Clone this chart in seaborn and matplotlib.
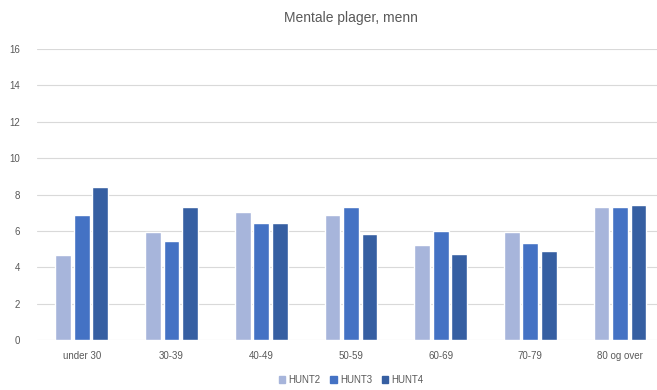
import numpy as np
import pandas as pd
import matplotlib
matplotlib.use("Agg")
import matplotlib.pyplot as plt
import seaborn as sns

# age groups and survey values (percent)
categories = ["under 30", "30-39", "40-49", "50-59", "60-69", "70-79", "80 og over"]
hunt2 = [4.7, 5.95, 7.05, 6.85, 5.25, 5.95, 7.3]
hunt3 = [6.85, 5.45, 6.45, 7.3, 6.0, 5.35, 7.3]
hunt4 = [8.4, 7.3, 6.45, 5.85, 4.75, 4.9, 7.45]
series = ["HUNT2", "HUNT3", "HUNT4"]
colors = ["#A7B5DB", "#4472C4", "#365FA2"]

df = pd.DataFrame({
    "Alder": categories * 3,
    "Serie": np.repeat(series, len(categories)),
    "Verdi": hunt2 + hunt3 + hunt4,
})

sns.set_style("white")
plt.rcParams["font.family"] = ["Liberation Sans", "DejaVu Sans"]

fig = plt.figure(figsize=(6.57, 3.9), dpi=100)
ax = fig.add_axes([0.0563, 0.1282, 0.9557, 0.746])

sns.barplot(data=df, x="Alder", y="Verdi", hue="Serie", palette=colors,
            saturation=1, width=0.62, gap=0.15, ax=ax, legend=False, zorder=3)

ax.set_ylim(0, 16)
ax.set_yticks(range(0, 17, 2))
ax.set_xlim(-0.5, len(categories) - 0.5)
ax.grid(axis="y", color="#D9D9D9", linewidth=0.8, zorder=0)
ax.set_axisbelow(True)
for s in ax.spines.values():
    s.set_visible(False)
ax.set_xlabel("")
ax.set_ylabel("")
ax.tick_params(axis="both", length=0, labelsize=7, colors="#595959", pad=8)
ax.tick_params(axis="y", pad=12)

fig.text(351 / 657, 1 - 18 / 390, "Mentale plager, menn", ha="center", va="center",
         fontsize=10, color="#595959")

handles = [plt.Rectangle((0, 0), 1, 1, color=c) for c in colors]
fig.legend(handles, series, loc="center", bbox_to_anchor=(351 / 657, 1 - 380 / 390),
           ncol=3, frameon=False, fontsize=7, handlelength=0.7, handleheight=0.7,
           handletextpad=0.3, columnspacing=1.0, labelcolor="#595959")

fig.savefig("out.png", dpi=100)
